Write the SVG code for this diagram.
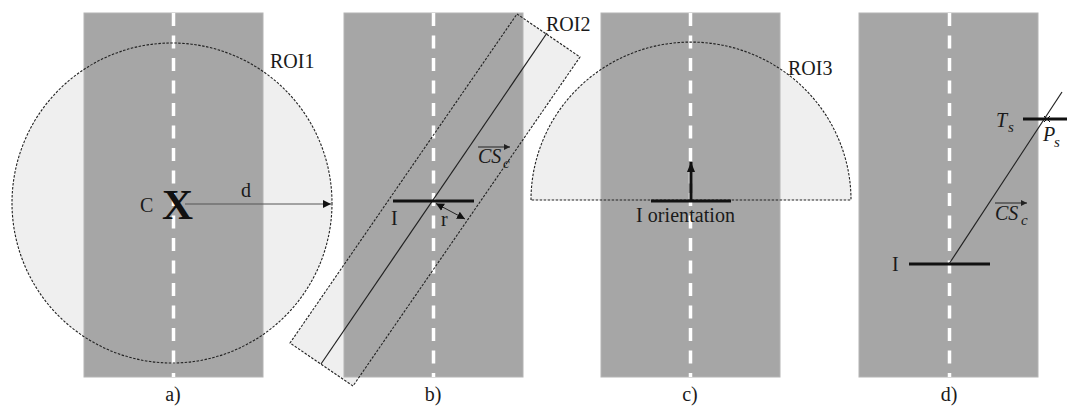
<svg xmlns="http://www.w3.org/2000/svg" width="1067" height="406" viewBox="0 0 1067 406">
<style>
.road{fill:#a6a6a6;stroke:#b4b4b4;stroke-width:1}
.cl{stroke:#ffffff;stroke-width:3.5;stroke-dasharray:13 9.5;fill:none}
.roifill{fill:#efefef;stroke:none}
.roiline{fill:none;stroke:#222;stroke-width:1.1;stroke-dasharray:2.5 1.5}
.t{font-family:"Liberation Serif","Times New Roman",serif;font-size:20px;fill:#1a1a1a}
.m{font-family:"Liberation Serif","Times New Roman",serif;font-style:italic;font-size:20px;fill:#1a1a1a}
.ms{font-family:"Liberation Serif","Times New Roman",serif;font-style:italic;font-size:15px;fill:#1a1a1a}
.bar{stroke:#111;stroke-width:3;fill:none}
.thin{stroke:#222;stroke-width:1.2;fill:none}
.vec{stroke:#222;stroke-width:1;fill:none}
</style>
<defs>
<marker id="ah" markerUnits="userSpaceOnUse" markerWidth="10" markerHeight="10" refX="8" refY="4" orient="auto-start-reverse" viewBox="0 0 10 8">
<path d="M0,0 L8,4 L0,8 Z" fill="#111"/>
</marker>
<marker id="ahv" markerUnits="userSpaceOnUse" markerWidth="7" markerHeight="6" refX="6" refY="3" orient="auto" viewBox="0 0 7 6">
<path d="M0,0 L6,3 L0,6 Z" fill="#222"/>
</marker>
<marker id="ahb" markerUnits="userSpaceOnUse" markerWidth="10" markerHeight="12" refX="10" refY="4" orient="auto" viewBox="0 0 10 8">
<path d="M0,0 L10,4 L0,8 Z" fill="#111"/>
</marker>
</defs>

<g id="panel-a">
<circle class="roifill" cx="172" cy="203" r="160"/>
<rect class="road" x="84" y="13" width="179" height="364"/>
<line class="cl" x1="173.5" y1="13" x2="173.5" y2="377"/>
<circle class="roiline" cx="172" cy="203" r="160"/>
<text class="t" x="270" y="68">ROI1</text>
<text class="t" x="140" y="212">C</text>
<text x="177.5" y="219" text-anchor="middle" style="font-family:'Liberation Serif','Times New Roman',serif;font-weight:bold;font-size:43px;fill:#111">X</text>
<line x1="185" y1="204" x2="331" y2="204" stroke="#555" stroke-width="1" marker-end="url(#ah)"/>
<text class="t" x="241" y="197">d</text>
<text class="t" x="173" y="401" text-anchor="middle">a)</text>
</g>

<g id="panel-b">
<polygon class="roifill" points="517,14 580,57 353,386 290,343"/>
<rect class="road" x="344" y="13" width="179" height="364"/>
<line class="cl" x1="433.5" y1="13" x2="433.5" y2="377"/>
<polygon class="roiline" points="517,14 580,57 353,386 290,343"/>
<line class="thin" x1="321" y1="364" x2="547" y2="33"/>
<line class="bar" x1="393" y1="201" x2="474" y2="201"/>
<line x1="436" y1="203.5" x2="465" y2="219" stroke="#222" stroke-width="1" marker-start="url(#ah)" marker-end="url(#ah)"/>
<text class="t" x="391" y="225">I</text>
<text class="t" x="441" y="226">r</text>
<line class="vec" x1="478" y1="147" x2="510" y2="147" marker-end="url(#ahv)"/>
<text class="m" x="478" y="163">CS</text>
<text class="ms" x="503" y="168">c</text>
<text class="t" x="546" y="31">ROI2</text>
<text class="t" x="433" y="401" text-anchor="middle">b)</text>
</g>

<g id="panel-c">
<path class="roifill" d="M531,200 A160,158 0 0 1 851,200 Z"/>
<rect class="road" x="601" y="13" width="179" height="364"/>
<line class="cl" x1="690.5" y1="13" x2="690.5" y2="377"/>
<path class="roiline" d="M531,200 A160,158 0 0 1 851,200 Z"/>
<line class="bar" x1="651" y1="201" x2="731" y2="201"/>
<line x1="691" y1="200" x2="691" y2="162" stroke="#111" stroke-width="3" marker-end="url(#ahb)"/>
<text class="t" x="636" y="222" textLength="99">I orientation</text>
<text class="t" x="788" y="75">ROI3</text>
<text class="t" x="690" y="401" text-anchor="middle">c)</text>
</g>

<g id="panel-d">
<rect class="road" x="859" y="13" width="179" height="364"/>
<line class="cl" x1="949.5" y1="13" x2="949.5" y2="377"/>
<line class="bar" x1="909" y1="264" x2="990" y2="264"/>
<line class="thin" x1="949" y1="264" x2="1062" y2="92"/>
<line class="bar" x1="1023" y1="119" x2="1067" y2="119"/>
<path d="M1044,116 L1050,122 M1050,116 L1044,122" stroke="#111" stroke-width="1"/>
<text class="t" x="892" y="271">I</text>
<text class="m" x="996" y="127">T</text>
<text class="ms" x="1008" y="132">s</text>
<text class="m" x="1043" y="141">P</text>
<text class="ms" x="1054" y="147">s</text>
<line class="vec" x1="995" y1="203" x2="1027" y2="203" marker-end="url(#ahv)"/>
<text class="m" x="995" y="220">CS</text>
<text class="ms" x="1021" y="225">c</text>
<text class="t" x="949" y="401" text-anchor="middle">d)</text>
</g>
</svg>
